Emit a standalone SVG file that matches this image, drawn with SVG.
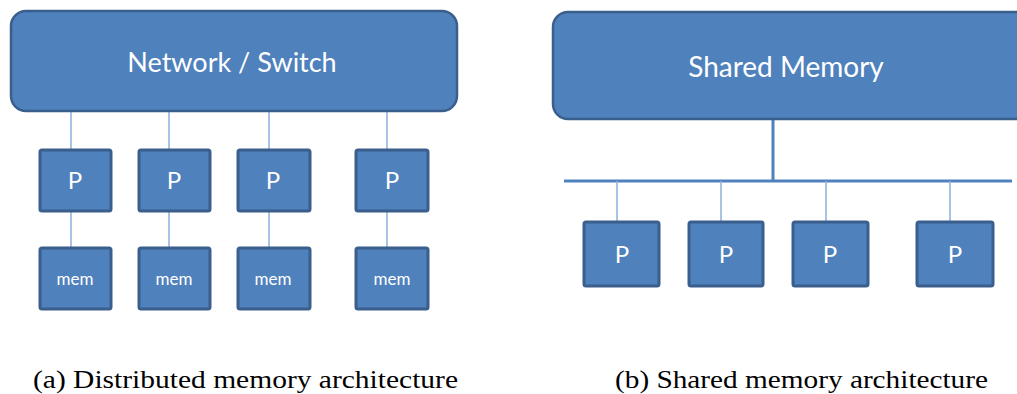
<svg xmlns="http://www.w3.org/2000/svg" width="1017" height="394" viewBox="0 0 1017 394">
  <style>
    .box { fill: #4f81bd; stroke: #3a5f8d; stroke-width: 3; }
    .big { fill: #4f81bd; stroke: #3a5f8d; stroke-width: 2.5; }
    .lbl { fill: #ffffff; font-family: Lato, "Open Sans", sans-serif; text-anchor: middle; }
    .thin { stroke: #8cb0de; stroke-width: 1.5; fill: none; }
    .bus { stroke: #4f81bd; stroke-width: 3; fill: none; }
    .cap { fill: #000000; font-family: "Liberation Serif", serif; font-size: 25px; }
  </style>

  <!-- connectors -->
  <g id="connectors">
    <!-- distributed: switch to processors, processors to local memory -->
    <path class="thin" d="M71 111V149 M169 111V149 M269 111V149 M387 111V149"/>
    <path class="thin" d="M71 211V248 M169 211V248 M269 211V248 M387 211V248"/>
    <!-- shared: memory to bus, bus to processors -->
    <path class="bus" d="M773 119V181 M564 181H1012"/>
    <path class="thin" d="M617 181V222 M721 181V222 M826 181V222 M950 181V222"/>
  </g>

  <!-- (a) distributed memory -->
  <g id="network-switch">
    <rect class="big" x="11" y="11" width="446" height="100" rx="15"/>
    <text class="lbl" x="232" y="72" font-size="27">Network / Switch</text>
  </g>
  <g id="p-a1"><rect class="box" x="40" y="150" width="71" height="61" rx="2"/><text class="lbl" x="75" y="189" font-size="24">P</text></g>
  <g id="p-a2"><rect class="box" x="139" y="150" width="71" height="61" rx="2"/><text class="lbl" x="174" y="189" font-size="24">P</text></g>
  <g id="p-a3"><rect class="box" x="238" y="150" width="72" height="61" rx="2"/><text class="lbl" x="273" y="189" font-size="24">P</text></g>
  <g id="p-a4"><rect class="box" x="356" y="150" width="72" height="61" rx="2"/><text class="lbl" x="392" y="189" font-size="24">P</text></g>
  <g id="mem-1"><rect class="box" x="40" y="248" width="71" height="61" rx="2"/><text class="lbl" x="75" y="285" font-size="17">mem</text></g>
  <g id="mem-2"><rect class="box" x="139" y="248" width="71" height="61" rx="2"/><text class="lbl" x="174" y="285" font-size="17">mem</text></g>
  <g id="mem-3"><rect class="box" x="238" y="248" width="72" height="61" rx="2"/><text class="lbl" x="273" y="285" font-size="17">mem</text></g>
  <g id="mem-4"><rect class="box" x="356" y="248" width="72" height="61" rx="2"/><text class="lbl" x="392" y="285" font-size="17">mem</text></g>

  <!-- (b) shared memory -->
  <g id="shared-memory">
    <rect class="big" x="553" y="12" width="478" height="107" rx="15"/>
    <text class="lbl" x="786" y="77" font-size="28">Shared Memory</text>
  </g>
  <g id="p-b1"><rect class="box" x="584" y="222" width="75" height="64" rx="2"/><text class="lbl" x="622" y="263" font-size="24">P</text></g>
  <g id="p-b2"><rect class="box" x="689" y="222" width="74" height="64" rx="2"/><text class="lbl" x="726" y="263" font-size="24">P</text></g>
  <g id="p-b3"><rect class="box" x="793" y="222" width="75" height="64" rx="2"/><text class="lbl" x="830" y="263" font-size="24">P</text></g>
  <g id="p-b4"><rect class="box" x="917" y="222" width="76" height="64" rx="2"/><text class="lbl" x="955" y="263" font-size="24">P</text></g>

  <!-- captions -->
  <text class="cap" x="33" y="388" textLength="425" lengthAdjust="spacingAndGlyphs">(a) Distributed memory architecture</text>
  <text class="cap" x="615" y="388" textLength="373" lengthAdjust="spacingAndGlyphs">(b) Shared memory architecture</text>
</svg>
